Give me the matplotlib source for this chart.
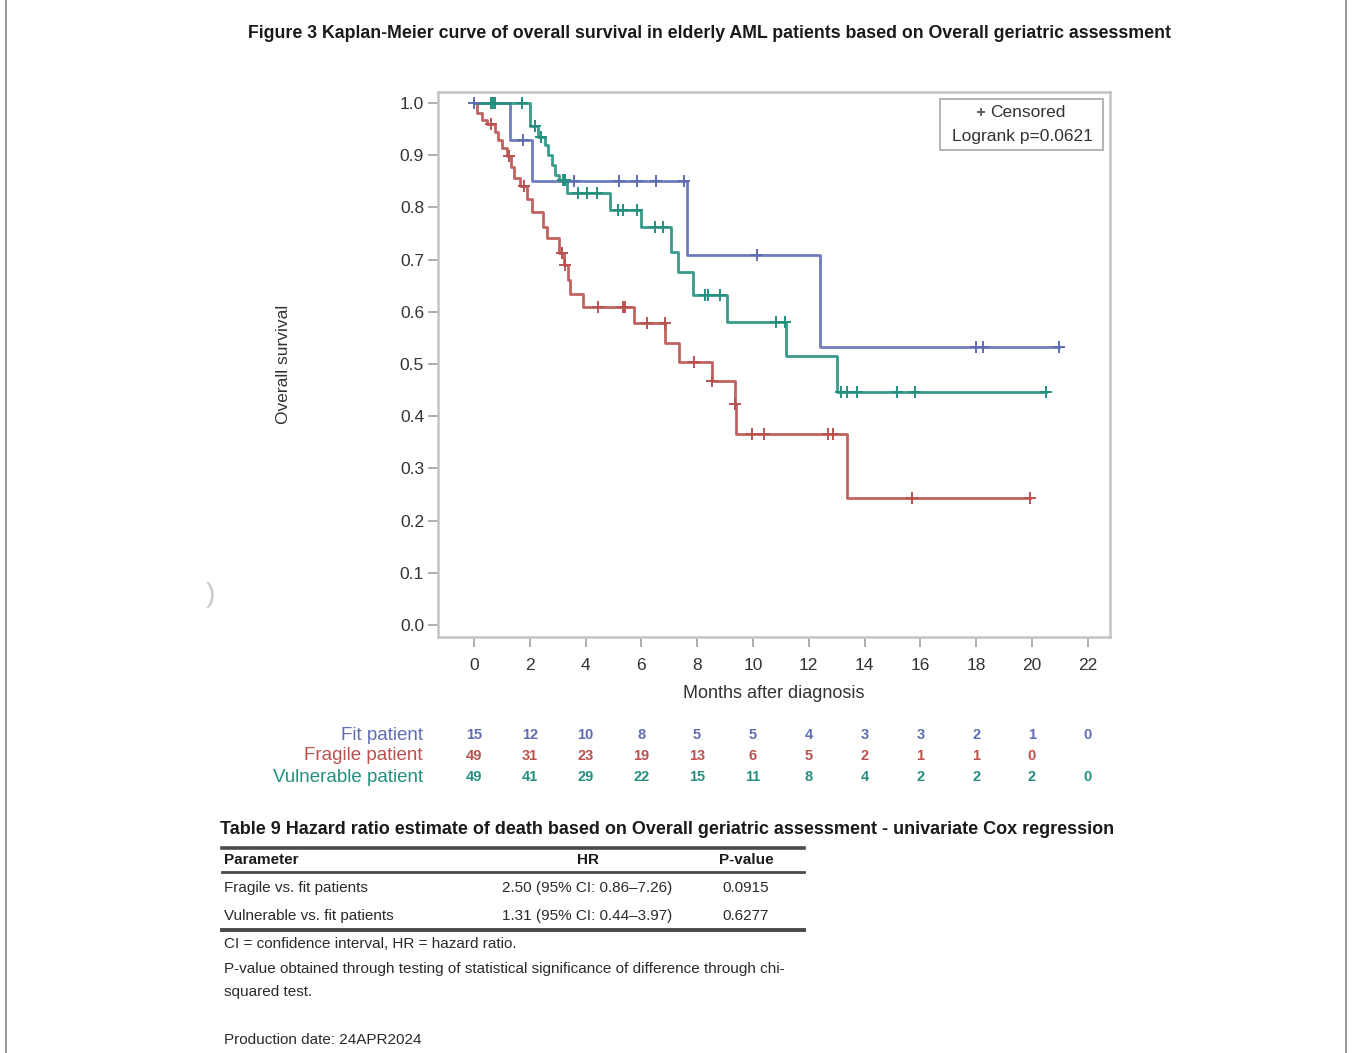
import numpy as np
import matplotlib
matplotlib.use("Agg")
import matplotlib.pyplot as plt
from matplotlib import font_manager
from matplotlib.lines import Line2D
from matplotlib.patches import Rectangle
import matplotlib.transforms as mtransforms

# ---------------- data ----------------
month_ticks = [0, 2, 4, 6, 8, 10, 12, 14, 16, 18, 20, 22]
surv_ticks = [0.0, 0.1, 0.2, 0.3, 0.4, 0.5, 0.6, 0.7, 0.8, 0.9, 1.0]

group_names = ["Fit patient", "Fragile patient", "Vulnerable patient"]

fit_time = [0, 1.29, 2.07, 7.62, 12.40, 20.98]
fit_surv = [1.0, 0.929, 0.851, 0.709, 0.532, 0.532]
fit_cens = [0.0, 1.74, 3.58, 5.21, 5.86, 6.51, 7.53, 10.15, 17.98, 18.23, 20.98]

frag_time = [0, 0.12, 0.30, 0.48, 0.75, 0.87, 1.00, 1.17, 1.32, 1.45, 1.65, 1.89, 2.07,
             2.48, 2.62, 3.05, 3.22, 3.38, 3.45, 3.90, 5.75, 6.85, 7.35, 8.52, 9.35,
             9.40, 13.36, 19.93]
frag_surv = [1.0, 0.980, 0.967, 0.959, 0.945, 0.929, 0.914, 0.898, 0.878, 0.857, 0.840,
             0.816, 0.792, 0.763, 0.741, 0.713, 0.690, 0.660, 0.635, 0.610, 0.578, 0.540,
             0.504, 0.468, 0.423, 0.366, 0.243, 0.243]
frag_cens = [0.60, 1.27, 1.80, 3.14, 3.26, 4.43, 5.35, 5.41, 6.21, 6.83, 7.88, 8.53,
             9.37, 9.98, 10.40, 12.70, 12.87, 15.71, 19.93]

vuln_time = [0, 2.00, 2.30, 2.55, 2.66, 2.78, 2.90, 3.05, 3.34, 4.87, 6.00, 7.08, 7.32,
             7.86, 9.06, 11.18, 13.03, 20.52]
vuln_surv = [1.0, 0.955, 0.935, 0.920, 0.900, 0.881, 0.862, 0.852, 0.827, 0.795, 0.763,
             0.715, 0.677, 0.632, 0.581, 0.515, 0.446, 0.446]
vuln_cens = [0.62, 0.69, 0.75, 1.71, 2.18, 2.42, 3.20, 3.28, 3.74, 4.04, 4.40, 5.17,
             5.35, 5.83, 6.49, 6.78, 8.28, 8.40, 8.82, 10.82, 11.15, 13.17, 13.36, 13.72,
             15.15, 15.80, 20.52]

fit_at_risk = [15, 12, 10, 8, 5, 5, 4, 3, 3, 2, 1, 0]
frag_at_risk = [49, 31, 23, 19, 13, 6, 5, 2, 1, 1, 0]
vuln_at_risk = [49, 41, 29, 22, 15, 11, 8, 4, 2, 2, 2, 0]

logrank_text = "Logrank p=0.0621"

hr_params = ["Fragile vs. fit patients", "Vulnerable vs. fit patients"]
hr_values = ["2.50 (95% CI: 0.86\u20137.26)", "1.31 (95% CI: 0.44\u20133.97)"]
hr_pvalues = ["0.0915", "0.6277"]

fig_title = ("Figure 3 Kaplan-Meier curve of overall survival in elderly AML patients "
             "based on Overall geriatric assessment")
table_title = ("Table 9 Hazard ratio estimate of death based on Overall geriatric "
               "assessment - univariate Cox regression")
footnotes = ["CI = confidence interval, HR = hazard ratio.",
             "P-value obtained through testing of statistical significance of difference through chi-",
             "squared test."]
production = "Production date: 24APR2024"

# ---------------- style ----------------
available = {f.name for f in font_manager.fontManager.ttflist}
NARROW = "Liberation Sans Narrow" if "Liberation Sans Narrow" in available else "Liberation Sans"
SANS = "Liberation Sans" if "Liberation Sans" in available else "DejaVu Sans"

C_FIT = "#5f6db3"
C_FRAG = "#b9524f"
C_VULN = "#23907f"
TXT = "#333333"

W, H = 1352, 1053
def fx(x):
    return x / W
def fy(y):
    return 1 - y / H

fig = plt.figure(figsize=(W / 100, H / 100), dpi=100)
fig.patch.set_facecolor("white")

ax = fig.add_axes([fx(438), fy(637), (1110 - 438) / W, (637 - 92) / H])
ax.set_xlim(-1.29, 22.8)
ax.set_ylim(-0.023, 1.021)

groups = [(fit_time, fit_surv, fit_cens, C_FIT),
          (frag_time, frag_surv, frag_cens, C_FRAG),
          (vuln_time, vuln_surv, vuln_cens, C_VULN)]
for t, s, c, col in groups:
    ax.step(t, s, where="post", color=col, lw=2.0, alpha=0.9, zorder=3)
    t_arr = np.asarray(t)
    s_arr = np.asarray(s)
    idx = np.searchsorted(t_arr, np.asarray(c), side="right") - 1
    ax.plot(c, s_arr[idx], ls="none", marker="+", ms=9, mew=1.4, color=col, zorder=4)

ax.set_xticks(month_ticks)
ax.set_xticklabels([str(m) for m in month_ticks])
ax.set_yticks(surv_ticks)
ax.set_yticklabels(["%.1f" % v for v in surv_ticks])
for sp in ax.spines.values():
    sp.set_color("#c4c4c4")
    sp.set_linewidth(1.8)
ax.tick_params(direction="out", length=7, width=1.2, color="#a0a0a0",
               labelcolor=TXT, labelsize=12.5)
ax.tick_params(axis="x", pad=8)
ax.tick_params(axis="y", pad=3)
for lab in ax.get_xticklabels() + ax.get_yticklabels():
    lab.set_family(SANS)

# legend box
ax.add_patch(Rectangle((0.747, 0.894), 0.243, 0.093, transform=ax.transAxes,
                       facecolor="white", edgecolor="#a8a8a8", lw=1.2, zorder=5))
ax.plot([0.808], [0.963], transform=ax.transAxes, marker="+", ms=6, mew=1.3,
        color="#555555", zorder=6)
ax.text(0.822, 0.963, "Censored", transform=ax.transAxes, ha="left", va="center",
        fontsize=12.5, color=TXT, family=SANS, zorder=6)
ax.text(0.869, 0.919, logrank_text, transform=ax.transAxes, ha="center", va="center",
        fontsize=12.5, color=TXT, family=SANS, zorder=6)

# axis labels
fig.text(fx(284), fy(364), "Overall survival", rotation=90, ha="center", va="center",
         fontsize=12.5, color=TXT, family=SANS)
fig.text(fx(774), fy(694), "Months after diagnosis", ha="center", va="center",
         fontsize=13, color=TXT, family=SANS)

# number at risk
blend = mtransforms.blended_transform_factory(ax.transData, fig.transFigure)
risk_rows = [(fit_at_risk, C_FIT, 735), (frag_at_risk, C_FRAG, 756), (vuln_at_risk, C_VULN, 777)]
for name, (vals, col, yy) in zip(group_names, risk_rows):
    fig.text(fx(423), fy(yy), name, ha="right", va="center", fontsize=13.5,
             color=col, family=NARROW)
    for m, v in zip(month_ticks, vals):
        ax.text(m, fy(yy), str(v), transform=blend, ha="center", va="center",
                fontsize=10.5, color=col, family=NARROW, fontweight="bold", clip_on=False)

# titles
renderer = fig.canvas.get_renderer()
def fit_width(t, width_px):
    bb = t.get_window_extent(renderer)
    t.set_fontsize(t.get_fontsize() * width_px / bb.width)

t1 = fig.text(fx(710), fy(33), fig_title, ha="center", va="center", fontsize=14,
              fontweight="bold", color="#1a1a1a", family=NARROW)
fit_width(t1, 924)
t2 = fig.text(fx(220), fy(830), table_title, ha="left", va="center", fontsize=14,
              fontweight="bold", color="#1a1a1a", family=NARROW)
fit_width(t2, 898)

# hazard table
line_col = "#4a4a4a"
fig.add_artist(Line2D([fx(222), fx(804)], [fy(848), fy(848)], lw=2.6, color=line_col))
fig.add_artist(Line2D([fx(222), fx(804)], [fy(872), fy(872)], lw=2.0, color=line_col))
fig.add_artist(Line2D([fx(222), fx(804)], [fy(930), fy(930)], lw=2.8, color=line_col))

fn2 = fig.text(fx(224), fy(969), footnotes[1], ha="left", va="center", fontsize=11,
               color="#2a2a2a", family=NARROW)
fit_width(fn2, 558)
tsz = fn2.get_fontsize()

fig.text(fx(224), fy(860), "Parameter", ha="left", va="center", fontsize=tsz,
         fontweight="bold", color="#1a1a1a", family=NARROW)
fig.text(fx(588), fy(860), "HR", ha="center", va="center", fontsize=tsz,
         fontweight="bold", color="#1a1a1a", family=NARROW)
fig.text(fx(746), fy(860), "P-value", ha="center", va="center", fontsize=tsz,
         fontweight="bold", color="#1a1a1a", family=NARROW)
for i, yy in enumerate([888, 916]):
    fig.text(fx(224), fy(yy), hr_params[i], ha="left", va="center", fontsize=tsz,
             color="#2a2a2a", family=NARROW)
    fig.text(fx(587), fy(yy), hr_values[i], ha="center", va="center", fontsize=tsz,
             color="#2a2a2a", family=NARROW)
    fig.text(fx(746), fy(yy), hr_pvalues[i], ha="center", va="center", fontsize=tsz,
             color="#2a2a2a", family=NARROW)
fig.text(fx(224), fy(944), footnotes[0], ha="left", va="center", fontsize=tsz,
         color="#2a2a2a", family=NARROW)
fig.text(fx(224), fy(992), footnotes[2], ha="left", va="center", fontsize=tsz,
         color="#2a2a2a", family=NARROW)
fig.text(fx(224), fy(1040), production, ha="left", va="center", fontsize=tsz,
         color="#2a2a2a", family=NARROW)

# page frame and scan artifact
fig.add_artist(Line2D([fx(6), fx(6)], [0, 1], lw=1.2, color="#8a8a8a"))
fig.add_artist(Line2D([fx(1346), fx(1346)], [0, 1], lw=1.2, color="#8a8a8a"))
fig.text(fx(210), fy(595), ")", ha="center", va="center", fontsize=20,
         color="#c8c8c8", family=SANS)

fig.savefig("out.png", dpi=100, facecolor="white")
